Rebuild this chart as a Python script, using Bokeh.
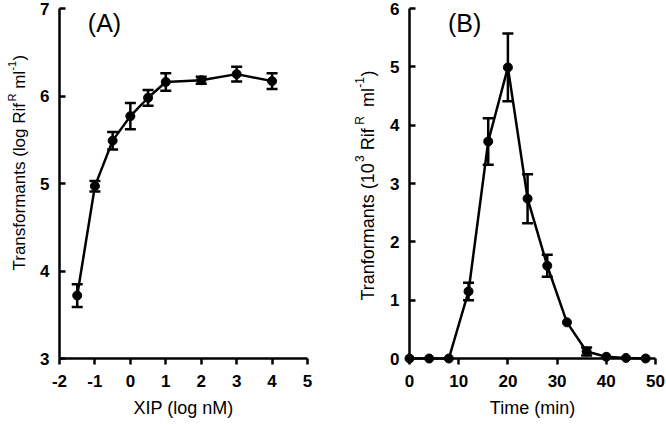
from bokeh.plotting import figure
from bokeh.models import ColumnDataSource, Whisker, TeeHead, Label, FixedTicker
from bokeh.core.properties import value
from bokeh.layouts import row
from bokeh.embed import file_html
from bokeh.resources import INLINE

# Panel A: transformants vs XIP concentration
xip = [-1.5, -1, -0.5, 0, 0.5, 1, 2, 3, 4]
trans_a = [3.72, 4.97, 5.49, 5.77, 5.98, 6.16, 6.18, 6.25, 6.17]
err_a = [0.13, 0.06, 0.10, 0.15, 0.09, 0.10, 0.04, 0.085, 0.09]

# Panel B: transformants vs time
time_b = [0, 4, 8, 12, 16, 20, 24, 28, 32, 36, 40, 44, 48]
trans_b = [0, 0, 0, 1.15, 3.72, 4.99, 2.74, 1.59, 0.62, 0.12, 0.03, 0.01, 0.0]
err_b = [0, 0, 0, 0.15, 0.40, 0.58, 0.42, 0.19, 0, 0.07, 0, 0, 0]

xticks_a = [-2, -1, 0, 1, 2, 3, 4, 5]
yticks_a = [3, 4, 5, 6, 7]
xticks_b = [0, 10, 20, 30, 40, 50]
yticks_b = [0, 1, 2, 3, 4, 5, 6]

# y-axis titles split into pieces: (text, superscript?, leading gap in base em, advance in own em)
ylab_a = [("Transformants (log Rif", False, 0.0, 9.891), ("R", True, 0.05, 0.722),
          ("ml", False, 0.278, 1.055), ("-1", True, 0.02, 0.889),
          (")", False, 0.02, 0.333)]
ylab_b = [("Tranformants (10", False, 0.0, 7.669), ("3", True, 0.03, 0.556),
          ("Rif", False, 0.278, 1.222), ("R", True, 0.2, 0.722),
          ("ml", False, 0.5, 1.055), ("-1", True, 0.02, 0.889),
          (")", False, 0.02, 0.333)]

FONT = "Liberation Sans"
LW = 2.5
W, H = 666, 425
FT, FB = 8, 358          # frame top / bottom (px)


def style(p, xticks, yticks, xlabel):
    p.outline_line_color = None
    p.xgrid.visible = False
    p.ygrid.visible = False
    p.xaxis.ticker = FixedTicker(ticks=xticks)
    p.yaxis.ticker = FixedTicker(ticks=yticks)
    p.xaxis.major_label_overrides = {t: str(t) for t in xticks}
    p.yaxis.major_label_overrides = {t: str(t) for t in yticks}
    p.xaxis.axis_label = xlabel
    for ax in (p.xaxis, p.yaxis):
        ax.axis_line_width = LW
        ax.axis_line_color = "black"
        ax.major_tick_line_width = LW
        ax.major_tick_line_color = "black"
        ax.minor_tick_line_color = None
        ax.major_label_text_font = FONT
        ax.major_label_text_font_size = "17px"
        ax.major_label_text_font_style = "bold"
        ax.major_label_text_color = "black"
        ax.axis_label_text_font = FONT
        ax.axis_label_text_font_size = "18px"
        ax.axis_label_text_font_style = "normal"
        ax.axis_label_text_color = "black"
    p.xaxis.major_tick_out = 6
    p.xaxis.major_tick_in = 0
    p.yaxis.major_tick_in = 6
    p.yaxis.major_tick_out = 0
    p.xaxis.major_label_standoff = 10
    p.xaxis.axis_label_standoff = 8
    p.yaxis.major_label_standoff = 10


def series(p, xs, ys, errs):
    p.line(xs, ys, line_color="black", line_width=LW, level="annotation")
    p.scatter(xs, ys, size=9, fill_color="black", line_color="black",
              level="annotation")
    bx = [x for x, e in zip(xs, errs) if e > 0]
    by = [y for y, e in zip(ys, errs) if e > 0]
    be = [e for e in errs if e > 0]
    src = ColumnDataSource(dict(x=bx,
                                upper=[y + e for y, e in zip(by, be)],
                                lower=[y - e for y, e in zip(by, be)]))
    w = Whisker(source=src, base="x", upper="upper", lower="lower",
                dimension="height", line_width=LW, line_color="black",
                upper_head=TeeHead(size=11, line_width=LW, line_color="black"),
                lower_head=TeeHead(size=11, line_width=LW, line_color="black"),
                level="annotation")
    p.add_layout(w)


def ytitle(p, pieces, xr, yr, fl, fr, base_px, start_px, size, sup_size):
    """Rotated y title made of text pieces; px positions mapped to data."""
    xppu = (fr - fl) / (xr[1] - xr[0])
    yppu = (FB - FT) / (yr[1] - yr[0])
    y_px = start_px
    for text, sup, lead, em in pieces:
        fs = sup_size if sup else size
        y_px -= lead * size
        bx = base_px - (0.42 * size if sup else 0)
        p.text(x=[xr[0] - (fl - bx) / xppu], y=[yr[1] - (y_px - FT) / yppu],
               text=[text], angle=1.5707963, text_align="left",
               text_baseline="alphabetic", text_font=value(FONT),
               text_font_size=f"{fs}px", text_color="black",
               level="annotation")
        y_px -= em * fs


WA = 340
pa = figure(width=WA, height=H, x_range=(-2, 5), y_range=(3, 7),
            output_backend="svg", toolbar_location=None,
            min_border_left=59, min_border_right=WA - 307,
            min_border_top=FT, min_border_bottom=H - FB)
style(pa, xticks_a, yticks_a, "XIP (log nM)")
series(pa, xip, trans_a, err_a)
ytitle(pa, ylab_a, (-2, 5), (3, 7), 59, 307, 19, 270, 17, 11)
pa.add_layout(Label(x=-1.2, y=7, text="(A)", text_baseline="top",
                    text_font=FONT, text_font_size="25px", text_color="black"))

WB = W - WA
pb = figure(width=WB, height=H, x_range=(0, 50), y_range=(0, 6),
            output_backend="svg", toolbar_location=None,
            min_border_left=409 - WA, min_border_right=WB - (655 - WA),
            min_border_top=FT, min_border_bottom=H - FB)
style(pb, xticks_b, yticks_b, "Time (min)")
series(pb, time_b, trans_b, err_b)
ytitle(pb, ylab_b, (0, 50), (0, 6), 409 - WA, 655 - WA, 367 - WA, 300, 18, 12)
pb.add_layout(Label(x=7.8, y=6, text="(B)", text_baseline="top",
                    text_font=FONT, text_font_size="25px", text_color="black"))

layout = row(pa, pb)
open("out.html", "w").write(file_html(layout, INLINE))
